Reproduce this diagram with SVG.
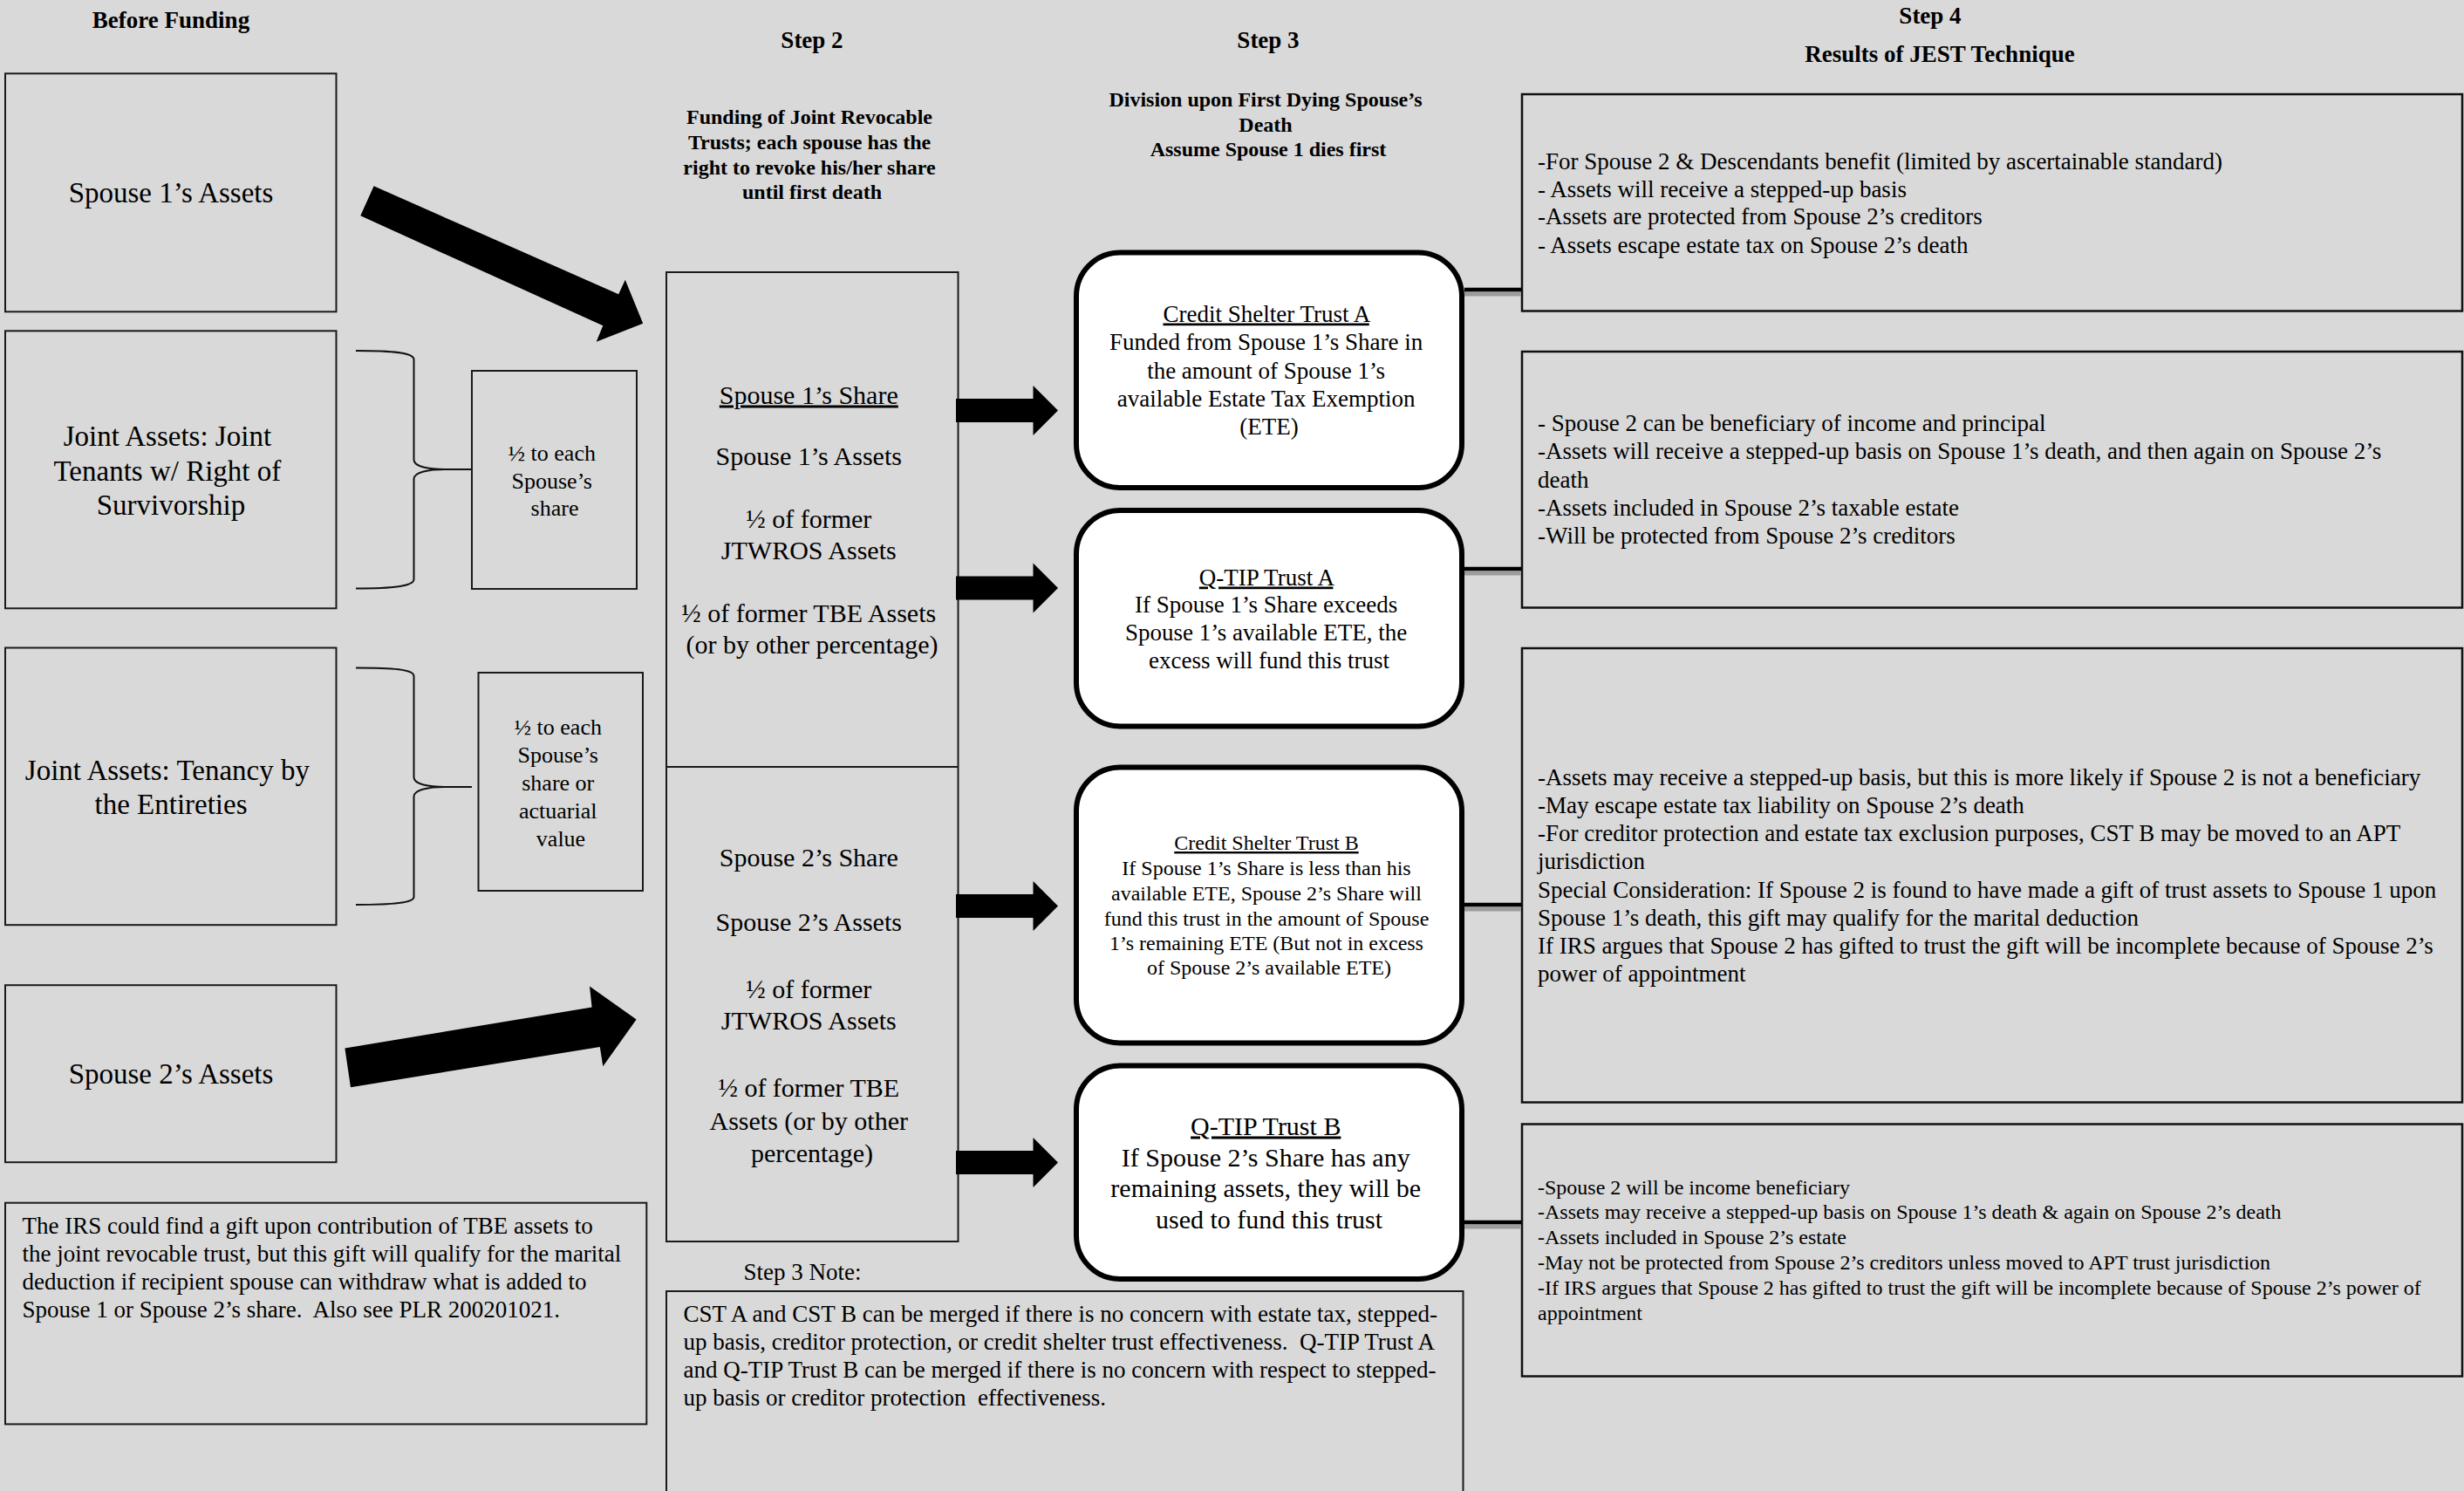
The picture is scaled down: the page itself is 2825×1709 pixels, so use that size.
<svg xmlns="http://www.w3.org/2000/svg" width="2825" height="1709" viewBox="0 0 2825 1709">
<style>
  .box{fill:none;stroke:#1a1a1a;stroke-width:2}
  .trust{fill:#fff;stroke:#000;stroke-width:6}
  .res{fill:none;stroke:#111;stroke-width:2.5}
  text{font-family:"Liberation Serif","Times New Roman",serif;fill:#000}
  .hd{font-weight:bold;font-size:27px;text-anchor:middle}
  .sub{font-weight:bold;font-size:24px;text-anchor:middle}
  .c33{font-size:33px;text-anchor:middle}
  .c30{font-size:30px;text-anchor:middle}
  .c27{font-size:27px;text-anchor:middle}
  .c26{font-size:26px;text-anchor:middle}
  .c24{font-size:24px;text-anchor:middle}
  .l27{font-size:27px}
  .l24{font-size:24px}
  .u{text-decoration:underline}
  .cn{stroke:#000;stroke-width:4.5}
  .sh{stroke:#9c9c9c;stroke-width:5}
  .brace{fill:none;stroke:#111;stroke-width:2}
  .fat{fill:#000}
</style>
<defs>
  <!-- short block arrow, origin at the tail centre -->
  <path id="blk" d="M0,-13.5 H88.5 V-28.5 L117,0 L88.5,28.5 V13.5 H0 Z" fill="#000"/>
</defs>
<rect width="2825" height="1709" fill="#d9d9d9"/>

<!-- column headings -->
<g id="headings">
  <text class="hd" x="196" y="32">Before Funding</text>
  <text class="hd" x="931" y="55">Step 2</text>
  <text class="hd" x="1454" y="55">Step 3</text>
  <text class="hd" x="2213" y="27">Step 4</text>
  <text class="hd" x="2224" y="71">Results of JEST Technique</text>
  <text class="sub">
    <tspan x="931" y="142">Funding of Joint Revocable</tspan>
    <tspan x="931" y="171">Trusts; each spouse has the</tspan>
    <tspan x="931" y="199.5">right to revoke his/her share</tspan>
    <tspan x="931" y="228">until first death</tspan>
  </text>
  <text class="sub">
    <tspan x="1454" y="122">Division upon First Dying Spouse’s</tspan>
    <tspan x="1454" y="150.5">Death</tspan>
    <tspan x="1454" y="179">Assume Spouse 1 dies first</tspan>
  </text>
</g>

<!-- before funding -->
<g id="n-spouse1-assets">
  <rect class="box" x="6" y="84.3" width="379.5" height="273"/>
  <text class="c33" x="196" y="232">Spouse 1’s Assets</text>
</g>
<g id="n-jtwros">
  <rect class="box" x="6" y="379.3" width="379.5" height="318"/>
  <text class="c33">
    <tspan x="196" y="511">Joint Assets: Joint</tspan>
    <tspan x="196" y="550.5">Tenants w/ Right of</tspan>
    <tspan x="196" y="590">Survivorship</tspan>
  </text>
</g>
<g id="n-jtwros-half">
  <rect class="box" x="541" y="425" width="189" height="250"/>
  <text class="c26">
    <tspan x="636" y="528">½ to each</tspan>
    <tspan x="636" y="559.5">Spouse’s</tspan>
    <tspan x="636" y="591">share</tspan>
  </text>
</g>
<g id="n-tbe">
  <rect class="box" x="6" y="742.5" width="379.5" height="317.7"/>
  <text class="c33">
    <tspan x="196" y="894">Joint Assets: Tenancy by</tspan>
    <tspan x="196" y="933">the Entireties</tspan>
  </text>
</g>
<g id="n-tbe-half">
  <rect class="box" x="548.5" y="771" width="188.5" height="250"/>
  <text class="c26">
    <tspan x="643" y="842">½ to each</tspan>
    <tspan x="643" y="874">Spouse’s</tspan>
    <tspan x="643" y="906">share or</tspan>
    <tspan x="643" y="938">actuarial</tspan>
    <tspan x="643" y="970">value</tspan>
  </text>
</g>
<g id="n-spouse2-assets">
  <rect class="box" x="6" y="1129.2" width="379.5" height="203"/>
  <text class="c33" x="196" y="1242">Spouse 2’s Assets</text>
</g>
<g id="n-irs-note">
  <rect class="box" x="6" y="1378.7" width="735.3" height="253.7"/>
  <text class="l27" xml:space="preserve"><tspan x="25.5" y="1414">The IRS could find a gift upon contribution of TBE assets to</tspan><tspan x="25.5" y="1446">the joint revocable trust, but this gift will qualify for the marital</tspan><tspan x="25.5" y="1478">deduction if recipient spouse can withdraw what is added to</tspan><tspan x="25.5" y="1510">Spouse 1 or Spouse 2’s share.  Also see PLR 200201021.</tspan></text>
</g>

<!-- step 2: joint revocable trust shares -->
<g id="n-shares">
  <rect class="box" x="764" y="312" width="334.5" height="1111"/>
  <line class="box" x1="764" y1="879" x2="1098.5" y2="879"/>
  <text class="c30">
    <tspan class="u" x="931" y="462.5">Spouse 1’s Share</tspan>
    <tspan x="931" y="533">Spouse 1’s Assets</tspan>
    <tspan x="931" y="605">½ of former</tspan>
    <tspan x="931" y="640.5">JTWROS Assets</tspan>
    <tspan x="931" y="713">½ of former TBE Assets</tspan>
    <tspan x="931" y="748.5">(or by other percentage)</tspan>
  </text>
  <text class="c30">
    <tspan x="931" y="992.5">Spouse 2’s Share</tspan>
    <tspan x="931" y="1067">Spouse 2’s Assets</tspan>
    <tspan x="931" y="1143.5">½ of former</tspan>
    <tspan x="931" y="1180">JTWROS Assets</tspan>
    <tspan x="931" y="1257">½ of former TBE</tspan>
    <tspan x="931" y="1294.5">Assets (or by other</tspan>
    <tspan x="931" y="1332">percentage)</tspan>
  </text>
</g>
<g id="n-step3-note">
  <text class="c27" x="920" y="1467">Step 3 Note:</text>
  <rect class="box" x="764" y="1480" width="913.5" height="240"/>
  <text class="l27" xml:space="preserve"><tspan x="783.5" y="1515">CST A and CST B can be merged if there is no concern with estate tax, stepped-</tspan><tspan x="783.5" y="1547">up basis, creditor protection, or credit shelter trust effectiveness.  Q-TIP Trust A</tspan><tspan x="783.5" y="1579">and Q-TIP Trust B can be merged if there is no concern with respect to stepped-</tspan><tspan x="783.5" y="1611">up basis or creditor protection  effectiveness.</tspan></text>
</g>

<!-- step 3: trusts after first death -->
<g id="n-cst-a">
  <rect class="trust" x="1234" y="289.5" width="442" height="269.5" rx="50"/>
  <text class="c27">
    <tspan class="u" x="1455" y="368.5">Credit Shelter Trust A</tspan>
    <tspan x="1455" y="401">Funded from Spouse 1’s Share in</tspan>
    <tspan x="1455" y="433.5">the amount of Spouse 1’s</tspan>
    <tspan x="1455" y="465.5">available Estate Tax Exemption</tspan>
    <tspan x="1455" y="498">(ETE)</tspan>
  </text>
</g>
<g id="n-qtip-a">
  <rect class="trust" x="1234" y="585" width="442" height="247.5" rx="50"/>
  <text class="c27">
    <tspan class="u" x="1455" y="670.5">Q-TIP Trust A</tspan>
    <tspan x="1455" y="702">If Spouse 1’s Share exceeds</tspan>
    <tspan x="1455" y="734">Spouse 1’s available ETE, the</tspan>
    <tspan x="1455" y="765.5">excess will fund this trust</tspan>
  </text>
</g>
<g id="n-cst-b">
  <rect class="trust" x="1234" y="879.5" width="442" height="316" rx="50"/>
  <text class="c24">
    <tspan class="u" x="1455" y="974">Credit Shelter Trust B</tspan>
    <tspan x="1455" y="1003">If Spouse 1’s Share is less than his</tspan>
    <tspan x="1455" y="1031.5">available ETE, Spouse 2’s Share will</tspan>
    <tspan x="1455" y="1060.5">fund this trust in the amount of Spouse</tspan>
    <tspan x="1455" y="1089">1’s remaining ETE (But not in excess</tspan>
    <tspan x="1455" y="1117">of Spouse 2’s available ETE)</tspan>
  </text>
</g>
<g id="n-qtip-b">
  <rect class="trust" x="1234" y="1221.5" width="442" height="244.5" rx="50"/>
  <text class="c30">
    <tspan class="u" x="1455" y="1300.5">Q-TIP Trust B</tspan>
    <tspan x="1455" y="1336.5">If Spouse 2’s Share has any</tspan>
    <tspan x="1455" y="1372">remaining assets, they will be</tspan>
    <tspan x="1455" y="1407.5">used to fund this trust</tspan>
  </text>
</g>

<!-- step 4: results -->
<g id="n-result-1">
  <rect class="res" x="1745" y="108" width="1078" height="248.5"/>
  <text class="l27">
    <tspan x="1763" y="193.5">-For Spouse 2 &amp; Descendants benefit (limited by ascertainable standard)</tspan>
    <tspan x="1763" y="225.5">- Assets will receive a stepped-up basis</tspan>
    <tspan x="1763" y="257">-Assets are protected from Spouse 2’s creditors</tspan>
    <tspan x="1763" y="289.5">- Assets escape estate tax on Spouse 2’s death</tspan>
  </text>
</g>
<g id="n-result-2">
  <rect class="res" x="1745" y="403" width="1078" height="293.5"/>
  <text class="l27">
    <tspan x="1763" y="493.5">- Spouse 2 can be beneficiary of income and principal</tspan>
    <tspan x="1763" y="526">-Assets will receive a stepped-up basis on Spouse 1’s death, and then again on Spouse 2’s</tspan>
    <tspan x="1763" y="558.5">death</tspan>
    <tspan x="1763" y="590.5">-Assets included in Spouse 2’s taxable estate</tspan>
    <tspan x="1763" y="623">-Will be protected from Spouse 2’s creditors</tspan>
  </text>
</g>
<g id="n-result-3">
  <rect class="res" x="1745" y="743" width="1078" height="520.5"/>
  <text class="l27">
    <tspan x="1763" y="900">-Assets may receive a stepped-up basis, but this is more likely if Spouse 2 is not a beneficiary</tspan>
    <tspan x="1763" y="932">-May escape estate tax liability on Spouse 2’s death</tspan>
    <tspan x="1763" y="964">-For creditor protection and estate tax exclusion purposes, CST B may be moved to an APT</tspan>
    <tspan x="1763" y="996">jurisdiction</tspan>
    <tspan x="1763" y="1028.5">Special Consideration: If Spouse 2 is found to have made a gift of trust assets to Spouse 1 upon</tspan>
    <tspan x="1763" y="1060.5">Spouse 1’s death, this gift may qualify for the marital deduction</tspan>
    <tspan x="1763" y="1093">If IRS argues that Spouse 2 has gifted to trust the gift will be incomplete because of Spouse 2’s</tspan>
    <tspan x="1763" y="1125">power of appointment</tspan>
  </text>
</g>
<g id="n-result-4">
  <rect class="res" x="1745" y="1288.5" width="1078" height="289"/>
  <text class="l24">
    <tspan x="1763" y="1368.5">-Spouse 2 will be income beneficiary</tspan>
    <tspan x="1763" y="1397">-Assets may receive a stepped-up basis on Spouse 1’s death &amp; again on Spouse 2’s death</tspan>
    <tspan x="1763" y="1426">-Assets included in Spouse 2’s estate</tspan>
    <tspan x="1763" y="1455">-May not be protected from Spouse 2’s creditors unless moved to APT trust jurisdiction</tspan>
    <tspan x="1763" y="1484">-If IRS argues that Spouse 2 has gifted to trust the gift will be incomplete because of Spouse 2’s power of</tspan>
    <tspan x="1763" y="1513">appointment</tspan>
  </text>
</g>

<!-- connectors -->
<g id="connectors">
  <!-- braces splitting the joint assets -->
  <path class="brace" d="M408,402 C450,402 474.5,404 474.5,412 V527 C474.5,535 492,538 510,538 H540 M510,538 C492,538 474.5,541 474.5,549 V664 C474.5,672 450,674.5 408,674.5"/>
  <path class="brace" d="M408,765.4 C450,765.4 474.5,767 474.5,775 V891 C474.5,899 492,902 510,902 H541 M510,902 C492,902 474.5,905 474.5,913 V1028 C474.5,1035 450,1037 408,1037"/>
  <!-- funding arrows into the joint trust -->
  <polygon class="fat" points="428.6,213.3 709.2,337.3 716.8,320.7 737.2,370.7 683.7,391.7 691.3,373.3 413.3,247.3"/>
  <polygon class="fat" points="395.4,1201.6 678.6,1154.4 676,1130.4 729.6,1168.4 691.3,1222.3 687.8,1199.9 402,1246.3"/>
  <!-- shares to trusts -->
  <use href="#blk" x="1096" y="470.5"/>
  <use href="#blk" x="1096" y="674"/>
  <use href="#blk" x="1096" y="1038.5"/>
  <use href="#blk" x="1096" y="1332.5"/>
  <!-- trusts to results -->
  <g class="sh">
    <line x1="1679" y1="337" x2="1744" y2="337"/>
    <line x1="1679" y1="657" x2="1744" y2="657"/>
    <line x1="1679" y1="1042" x2="1744" y2="1042"/>
    <line x1="1679" y1="1406" x2="1744" y2="1406"/>
  </g>
  <g class="cn">
    <line x1="1679" y1="332" x2="1744" y2="332"/>
    <line x1="1679" y1="652" x2="1744" y2="652"/>
    <line x1="1679" y1="1037" x2="1744" y2="1037"/>
    <line x1="1679" y1="1401" x2="1744" y2="1401"/>
  </g>
</g>
</svg>
